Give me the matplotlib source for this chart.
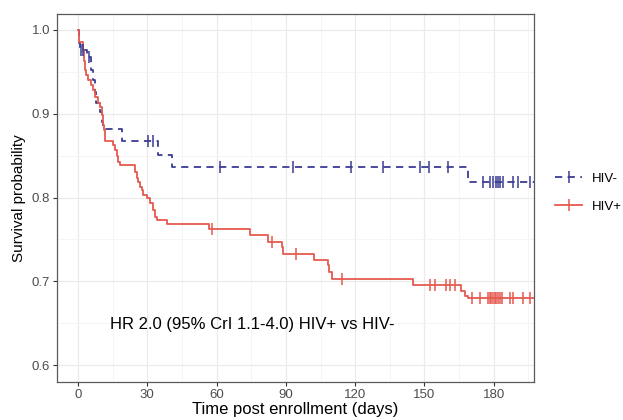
import numpy as np
import matplotlib
matplotlib.use("Agg")
import matplotlib.pyplot as plt
from matplotlib.lines import Line2D

plt.rcParams['font.family'] = ['Liberation Sans', 'DejaVu Sans']

# ---- data ----
blue_times = [0, 0.5, 1, 4, 5.5, 6.5, 7.5, 8, 9.5, 10.5, 11, 19, 34.6, 40.5, 169]
blue_surv = [1.0, 0.984, 0.976, 0.968, 0.952, 0.940, 0.926, 0.913, 0.902, 0.890,
             0.882, 0.867, 0.851, 0.837, 0.818]
blue_censor = [1.3, 2.3, 4.9, 30.4, 32.6, 61.5, 93.2, 118, 132, 148, 152, 160,
               175.5, 178.4, 179.8, 181.2, 181.9, 182.7, 184, 188.4, 190.6, 195.7]

red_times = [0, 0.3, 2, 2.5, 3, 3.5, 4.5, 5.5, 6.6, 7.4, 8.5, 9.5, 10.3, 11, 11.3,
             11.7, 15.3, 16, 16.7, 17.4, 18.2, 24.7, 25.4, 26.1, 26.8, 27.6, 28.3,
             29.7, 31.2, 32.6, 33.3, 34, 38.4, 56.8, 74.5, 82.4, 88.2, 88.9, 102.3,
             108.1, 108.8, 110.1, 145, 166, 167.5, 169]
red_surv = [1.0, 0.986, 0.975, 0.963, 0.952, 0.946, 0.940, 0.934, 0.928, 0.920,
            0.913, 0.908, 0.898, 0.887, 0.881, 0.867, 0.863, 0.857, 0.849, 0.843,
            0.839, 0.831, 0.823, 0.819, 0.813, 0.809, 0.803, 0.799, 0.793, 0.785,
            0.777, 0.773, 0.769, 0.762, 0.755, 0.747, 0.741, 0.733, 0.725, 0.719,
            0.711, 0.703, 0.696, 0.689, 0.682, 0.680]
red_censor = [58.1, 83.8, 94.2, 114.1, 152.4, 154.5, 159.3, 161, 163.2, 170.4,
              174, 177.5, 178.4, 179, 179.7, 180.5, 181, 181.8, 182.7, 183.4, 187,
              188.4, 192.6, 195.6]

x_ticks = [0, 30, 60, 90, 120, 150, 180]
y_ticks = [0.6, 0.7, 0.8, 0.9, 1.0]
group_labels = ["HIV-", "HIV+"]
annotation = "HR 2.0 (95% CrI 1.1-4.0) HIV+ vs HIV-"
t_end = 197.4

BLUE = '#3C3C96'
RED = '#E5594F'

fig = plt.figure(figsize=(6.23, 4.20), dpi=100)
ax = fig.add_axes([0.0915, 0.0905, 0.857 - 0.0915, 0.9667 - 0.0905])


def surv_at(times, surv, t):
    idx = np.searchsorted(times, t, side='right') - 1
    return np.asarray(surv)[idx]


def draw(times, surv, cens, color, ls):
    tt = list(times) + [t_end]
    ss = list(surv) + [surv[-1]]
    line, = ax.step(tt, ss, where='post', color=color, lw=1.3, zorder=3)
    if ls == 'dashed':
        line.set_dashes((4, 3))
    cy = surv_at(np.asarray(times), surv, np.asarray(cens))
    ax.plot(cens, cy, linestyle='none', marker='|', markersize=8,
            markeredgewidth=1.1, color=color, zorder=4)


draw(blue_times, blue_surv, blue_censor, BLUE, 'dashed')
draw(red_times, red_surv, red_censor, RED, 'solid')

ax.set_xlim(-9.1, t_end)
ax.set_ylim(0.58, 1.019)
ax.set_xticks(x_ticks)
ax.set_yticks(y_ticks)
ax.set_xticks([15, 45, 75, 105, 135, 165, 195], minor=True)
ax.set_yticks([0.65, 0.75, 0.85, 0.95], minor=True)
ax.set_yticklabels([f"{v:.1f}" for v in y_ticks])
ax.grid(which='major', color='#EBEBEB', lw=0.9, zorder=0)
ax.grid(which='minor', color='#F2F2F2', lw=0.5, zorder=0)
ax.tick_params(which='major', length=3, width=0.8, color='#333333',
               labelcolor='#4D4D4D', labelsize=9.5, pad=2)
ax.tick_params(which='minor', length=0)
for s in ax.spines.values():
    s.set_color('#5A5A5A')
    s.set_linewidth(0.9)
ax.set_axisbelow(True)

ax.set_xlabel("Time post enrollment (days)", fontsize=12, labelpad=1)
ax.set_ylabel("Survival probability", fontsize=11, labelpad=4)

ax.text(14, 0.648, annotation, fontsize=12, va='center', ha='left')

h_blue = Line2D([], [], color=BLUE, lw=1.3, dashes=(4, 3), marker='|',
                markersize=8, markeredgewidth=1.1)
h_red = Line2D([], [], color=RED, lw=1.3, marker='|', markersize=8,
               markeredgewidth=1.1)
ax.legend([h_blue, h_red], group_labels, loc='center left',
          bbox_to_anchor=(1.02, 0.515), frameon=False, fontsize=9.5,
          handlelength=2.0, labelspacing=1.2, handletextpad=0.8)

fig.savefig("out.png", dpi=100)
